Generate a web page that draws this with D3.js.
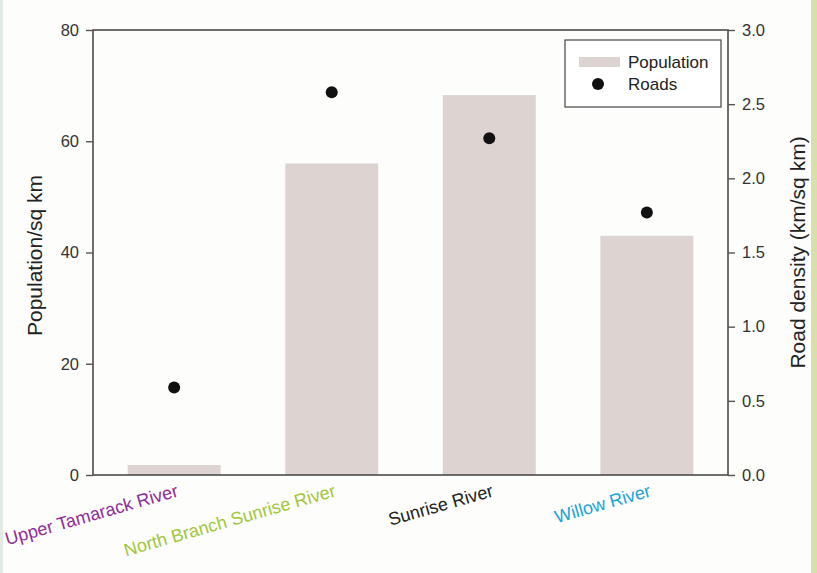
<!DOCTYPE html>
<html><head><meta charset="utf-8">
<script src="https://cdn.jsdelivr.net/npm/d3@7/dist/d3.min.js"></script>
<style>body{margin:0;background:#fff}svg{display:block;font-family:"Liberation Sans",Arial,sans-serif}</style>
</head><body>
<script>
const categories = ["Upper Tamarack River","North Branch Sunrise River","Sunrise River","Willow River"];
const labelColors = ["#8e2c98","#a2c63a","#222222","#1ca3d6"];
const population = [1.8, 56.0, 68.3, 43.0];
const roads = [0.59, 2.58, 2.27, 1.77];
const popTicks = [0,20,40,60,80];
const roadTicks = [0,0.5,1.0,1.5,2.0,2.5,3.0];

const W=817,H=573;
const m={l:93,r:728,t:30,b:475};
const svg=d3.select("body").append("svg").attr("width",W).attr("height",H);
svg.append("rect").attr("width",W).attr("height",H).attr("fill","#fdfdfc");
svg.append("rect").attr("x",811).attr("y",0).attr("width",6).attr("height",H).attr("fill","#d9dfa9");
svg.append("rect").attr("x",0).attr("y",0).attr("width",3).attr("height",H).attr("fill","#e3ebe6");

const x=d3.scaleBand().domain(categories).range([m.l,m.r]).paddingInner(0.41).paddingOuter(0.22);
const yL=d3.scaleLinear().domain([0,80]).range([m.b,m.t]);
const yR=d3.scaleLinear().domain([0,3]).range([m.b,m.t]);
const barColor="#ddd4d2";

svg.selectAll("rect.bar").data(population).join("rect").attr("class","bar")
  .attr("x",(d,i)=>x(categories[i])).attr("width",x.bandwidth())
  .attr("y",d=>yL(d)).attr("height",d=>yL(0)-yL(d)).attr("fill",barColor);

svg.selectAll("circle.road").data(roads).join("circle").attr("class","road")
  .attr("cx",(d,i)=>x(categories[i])+x.bandwidth()/2).attr("cy",d=>yR(d)).attr("r",6).attr("fill","#111");

// frame
svg.append("rect").attr("x",m.l).attr("y",m.t).attr("width",m.r-m.l).attr("height",m.b-m.t)
  .attr("fill","none").attr("stroke","#555").attr("stroke-width",1.7);

const axL=svg.append("g").attr("transform",`translate(${m.l},0)`)
  .call(d3.axisLeft(yL).tickValues(popTicks).tickSize(7).tickPadding(7).tickFormat(d3.format("d")));
const axR=svg.append("g").attr("transform",`translate(${m.r},0)`)
  .call(d3.axisRight(yR).tickValues(roadTicks).tickSize(7).tickPadding(7).tickFormat(d3.format(".1f")));
[axL,axR].forEach(a=>{
  a.select(".domain").remove();
  a.selectAll("line").attr("stroke","#555").attr("stroke-width",1.4);
  a.selectAll("text").attr("font-size",16.5).attr("fill","#333").attr("font-family","Liberation Sans, Arial, sans-serif");
});

// category labels
svg.selectAll("text.cat").data(categories).join("text").attr("class","cat")
  .attr("transform",(d,i)=>`translate(${x(d)+x.bandwidth()/2+5},${m.b+21}) rotate(-16)`)
  .attr("text-anchor","end").attr("font-size",18).attr("fill",(d,i)=>labelColors[i]).text(d=>d);

svg.append("text").attr("transform",`translate(42,${(m.t+m.b)/2+3}) rotate(-90)`)
  .attr("text-anchor","middle").attr("font-size",21).attr("fill","#222").text("Population/sq km");
svg.append("text").attr("transform",`translate(805,${(m.t+m.b)/2}) rotate(-90)`)
  .attr("text-anchor","middle").attr("font-size",21).attr("fill","#222").text("Road density (km/sq km)");

// legend
const lg=svg.append("g");
lg.append("rect").attr("x",565).attr("y",40).attr("width",156).attr("height",67)
  .attr("fill","#fff").attr("stroke","#444").attr("stroke-width",1.2);
lg.append("rect").attr("x",579).attr("y",57).attr("width",41).attr("height",10).attr("fill",barColor);
lg.append("circle").attr("cx",598).attr("cy",84).attr("r",6).attr("fill","#111");
lg.append("text").attr("x",628).attr("y",68).attr("font-size",17).attr("fill","#222").text("Population");
lg.append("text").attr("x",628).attr("y",90).attr("font-size",17).attr("fill","#222").text("Roads");
</script>
</body></html>
